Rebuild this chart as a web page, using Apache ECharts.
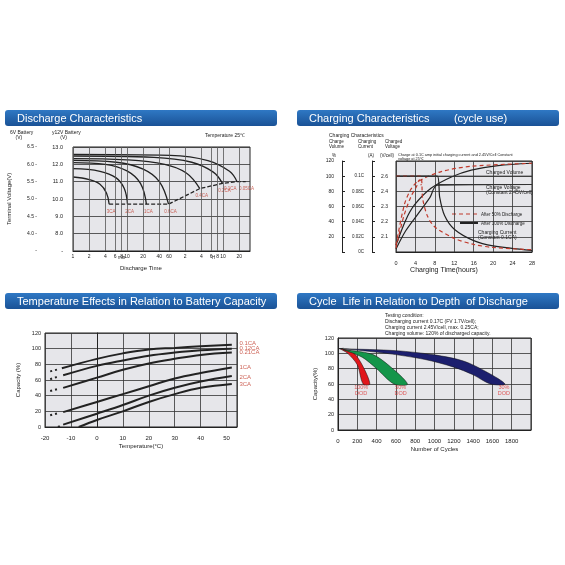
<!DOCTYPE html>
<html><head><meta charset="utf-8">
<script src="https://cdn.jsdelivr.net/npm/echarts@6/dist/echarts.min.js"></script>
<style>html,body{margin:0;background:#fff}#chart{width:565px;height:565px}</style>
</head><body><div id="chart"></div>
<script>
// ---- Discharge characteristics (x = log10(minutes), y = 12V volts)
var dischargeTicksMin = [1, 2, 4, 6, 8, 10, 20, 40, 60, 120, 240, 360, 480, 600, 1200];
var dischargeTickText = ['1', '2', '4', '6', '8', '10', '20', '40', '60', '2', '4', '6', '8', '10', '20'];
var dischargeRates = ['3CA', '2CA', '1CA', '0.6CA', '0.4CA', '0.2CA', '0.1CA  0.05CA'];
var dischargeCurves = [
    [[0, 11.27], [0.3, 11.12], [0.5, 10.85], [0.62, 10.35], [0.67, 9.7]],
    [[0, 11.75], [0.5, 11.6], [0.8, 11.22], [0.95, 10.6], [1.01, 9.7]],
    [[0, 12.1], [0.6, 12.0], [1.0, 11.62], [1.25, 10.9], [1.36, 9.7]],
    [[0, 12.23], [0.8, 12.12], [1.3, 11.72], [1.6, 11.0], [1.77, 9.7]],
    [[0, 12.33], [1.0, 12.26], [1.7, 12.0], [2.1, 11.5], [2.35, 10.6]],
    [[0, 12.48], [1.5, 12.4], [2.2, 12.12], [2.6, 11.55], [2.77, 10.9]],
    [[0, 12.58], [1.8, 12.52], [2.5, 12.22], [2.9, 11.6], [3.04, 11.0]]
];
var endVoltage = [[0.67, 9.7], [1.77, 9.7], [2.35, 10.6], [2.77, 10.9], [3.04, 11.0], [3.2, 11.0]];

// ---- Charging characteristics (x = hours, y = % scale 0..120)
var chargeVolumeLabels = ['0', '20', '40', '60', '80', '100', '120'];
var chargeCurrentLabels = ['0C', '0.02C', '0.04C', '0.06C', '0.08C', '0.1C', ''];
var chargeVoltageLabels = ['', '2.1', '2.2', '2.3', '2.4', '2.6', ''];
var volume100 = [[0, 9], [2, 42], [3.8, 62], [7.2, 84], [11.4, 99], [15.5, 108], [21, 114], [28, 117]];
var volume50 = [[0, 9], [1.7, 62], [3, 82], [4.5, 93], [9.3, 106], [15.5, 113], [28, 117]];
var voltage100 = [[0, 4], [2, 28], [4.5, 50], [7, 72], [8.5, 88], [28, 89]];
var voltage50 = [[0, 5], [1.5, 45], [3, 72], [4.2, 86], [4.8, 95], [5.2, 88]];
var current100 = [[0, 100], [8.5, 100], [9, 72], [10, 48], [12, 30], [16, 15], [20, 8], [28, 2]];
var current50 = [[0, 100], [5, 100], [5.5, 70], [6.5, 47], [8, 33], [12, 18], [16, 10], [20, 6], [28, 3]];

// ---- Temperature effects (x = deg C, y = capacity %)
var tempRates = ['0.1CA', '0.12CA', '0.21CA', '1CA', '2CA', '3CA'];
var tempCurves = [
    [[-13.5, 75], [0, 87], [10, 94], [20, 99], [30, 101], [40, 103], [52, 105]],
    [[-13, 66], [0, 78], [10, 85], [20, 91], [30, 95], [40, 98], [52, 100]],
    [[-13, 50], [0, 63], [10, 73], [20, 81], [30, 87], [40, 92], [52, 95]],
    [[-13, 19], [0, 32], [10, 42], [20, 52], [30, 62], [40, 69], [52, 76]],
    [[-13, 3], [0, 17], [10, 28], [20, 40], [30, 50], [40, 58], [52, 65]],
    [[-7, 0], [0, 9], [10, 20], [20, 32], [30, 42], [40, 50], [52, 55]]
];
var tempLabelY = [107, 101, 95, 76, 64, 54];
var tempDashes = [
    [[-18, 71], [-14.5, 74]], [[-18, 61], [-14.5, 65]], [[-18, 46], [-14.5, 49]],
    [[-18, 15], [-14.5, 18]], [[-15, 0], [-14, 1.5]], []
];

// ---- Cycle life (x = cycles, y = capacity %)
var dodLabels = ['100%\nDOD', '50%\nDOD', '30%\nDOD'];
var dodColors = ['#e0161b', '#14954a', '#1c1f6e'];
var dodLabelPos = [[240, 52], [650, 52], [1720, 52]];
var dodBands = [
    [[20, 106], [100, 100], [200, 85], [260, 60], [330, 60], [250, 85], [150, 102], [20, 106]],
    [[50, 105], [250, 95], [400, 80], [580, 60], [720, 60], [520, 85], [350, 99], [50, 105]],
    [[60, 106], [500, 100], [900, 92], [1200, 82], [1400, 72], [1580, 60], [1730, 60], [1550, 75], [1300, 90], [1000, 98], [600, 103.5], [60, 106]]
];
var cycleTopLine = [[0, 106], [60, 106.5]];

var font = 'Liberation Sans';
var ink = '#222';
var plotBg = '#e6e6ea';

function titleBar(x, y, w, text) {
    return [
        { type: 'rect', shape: { x: x, y: y, width: w, height: 16, r: 3 },
          style: { fill: new echarts.graphic.LinearGradient(0, 0, 0, 1, [{ offset: 0, color: '#2f78c4' }, { offset: 1, color: '#1a5296' }]) } },
        { type: 'text', x: x + 12, y: y + 3, style: { text: text, fill: '#fff', font: '11px ' + font } }
    ];
}
function txt(x, y, s, size, color, align) {
    return { type: 'text', x: x, y: y, style: { text: s, fill: color || ink, font: (size || 5) + 'px ' + font, align: align || 'left' } };
}

var series = [];
// discharge curves
dischargeCurves.forEach(function (c) {
    series.push({ type: 'line', xAxisIndex: 0, yAxisIndex: 0, data: c, smooth: 0.4, showSymbol: false,
        lineStyle: { color: ink, width: 1.3 } });
});
series.push({ type: 'line', xAxisIndex: 0, yAxisIndex: 0, showSymbol: false, data: endVoltage,
    lineStyle: { color: ink, width: 1.3, type: [4, 2] },
    markLine: { silent: true, symbol: 'none', lineStyle: { color: '#555', width: 0.8, type: 'solid' },
        label: { position: 'start', fontSize: 5, color: ink, fontFamily: font, distance: 3 },
        data: dischargeTicksMin.map(function (m, i) { return { xAxis: Math.log10(m), label: { formatter: dischargeTickText[i] } }; }) } });
var rateLabelPts = [[0.67, 9.7], [1.01, 9.7], [1.36, 9.7], [1.77, 9.7], [2.35, 10.6], [2.77, 10.9], [3.04, 11.0]];
series.push({ type: 'scatter', xAxisIndex: 0, yAxisIndex: 0, symbolSize: 0,
    data: rateLabelPts.map(function (p, i) { return { value: p, label: { formatter: dischargeRates[i] } }; }),
    label: { show: true, position: 'bottom', fontSize: 4.5, color: '#c0392b', fontFamily: font, offset: [2, 0] } });

// charging
function ch(data, color, dashed, w) {
    series.push({ type: 'line', xAxisIndex: 1, yAxisIndex: 4, data: data, smooth: 0.3, showSymbol: false,
        lineStyle: { color: color, width: w || 1.2, type: dashed ? [4, 3] : 'solid' } });
}
ch(volume100, ink); ch(volume50, '#c0392b', true);
ch(voltage100, ink); ch(voltage50, '#c0392b', true);
ch(current100, ink); ch(current50, '#c0392b', true);
series.push({ type: 'line', xAxisIndex: 1, yAxisIndex: 4, data: [[0, 100], [28, 100]], showSymbol: false, lineStyle: { color: '#333', width: 1 } });
series.push({ type: 'line', xAxisIndex: 1, yAxisIndex: 4, data: [[8.5, 89], [28, 89]], showSymbol: false, lineStyle: { color: '#333', width: 1 } });

// temperature
tempCurves.forEach(function (c, i) {
    series.push({ type: 'line', xAxisIndex: 2, yAxisIndex: 5, data: c, smooth: 0.4, showSymbol: false,
        lineStyle: { color: ink, width: 2 } });
    if (tempDashes[i].length) series.push({ type: 'line', xAxisIndex: 2, yAxisIndex: 5, data: tempDashes[i], showSymbol: false,
        lineStyle: { color: ink, width: 2, type: [2, 3] } });
});
series.push({ type: 'scatter', xAxisIndex: 2, yAxisIndex: 5, symbolSize: 0,
    data: tempRates.map(function (r, i) { return { value: [53, tempLabelY[i]], label: { formatter: r } }; }),
    label: { show: true, position: 'right', fontSize: 6, color: '#c0392b', fontFamily: font } });

// cycle life
series.push({ type: 'line', xAxisIndex: 3, yAxisIndex: 6, data: cycleTopLine, showSymbol: false, lineStyle: { color: ink, width: 1 } });
series.push({ type: 'custom', xAxisIndex: 3, yAxisIndex: 6, data: dodBands.map(function (b, i) { return [i]; }),
    renderItem: function (params, api) {
        var band = dodBands[params.dataIndex];
        return { type: 'polygon', shape: { points: band.map(function (p) { return api.coord(p); }), smooth: 0.3 },
            style: { fill: dodColors[params.dataIndex], stroke: '#111', lineWidth: 0.5 } };
    } });
series.push({ type: 'scatter', xAxisIndex: 3, yAxisIndex: 6, symbolSize: 0,
    data: dodLabelPos.map(function (p, i) { return { value: p, label: { formatter: dodLabels[i] } }; }),
    label: { show: true, fontSize: 5.5, color: '#d33', fontFamily: font, lineHeight: 6 } });

function yAx(grid, min, max, interval, extra) {
    return Object.assign({ type: 'value', gridIndex: grid, position: 'left', min: min, max: max, interval: interval,
        axisLine: { show: true, lineStyle: { color: ink } }, axisTick: { show: false },
        splitLine: { show: true, lineStyle: { color: '#333', width: 0.8 } },
        axisLabel: { fontSize: 5.5, color: ink, fontFamily: font, margin: 4 } }, extra || {});
}

var option = {
    animation: false,
    backgroundColor: '#fff',
    grid: [
        { left: 73, right: 315, top: 147, bottom: 314, show: true, backgroundColor: plotBg, borderColor: ink },
        { left: 396, right: 33, top: 161, bottom: 313, show: true, backgroundColor: plotBg, borderColor: ink },
        { left: 45, right: 328, top: 333, bottom: 138, show: true, backgroundColor: plotBg, borderColor: ink },
        { left: 338, right: 34, top: 338, bottom: 135, show: true, backgroundColor: plotBg, borderColor: ink }
    ],
    xAxis: [
        { type: 'value', gridIndex: 0, min: 0, max: 3.28, axisLabel: { show: false }, axisTick: { show: false }, splitLine: { show: false }, axisLine: { lineStyle: { color: ink } } },
        { type: 'value', gridIndex: 1, min: 0, max: 28, interval: 4, axisTick: { show: false },
          splitLine: { show: true, lineStyle: { color: '#333', width: 0.8 } }, axisLine: { lineStyle: { color: ink } },
          axisLabel: { fontSize: 5.5, color: ink, fontFamily: font },
          name: 'Charging Time(hours)', nameLocation: 'middle', nameGap: 14, nameTextStyle: { fontSize: 7, color: ink, fontFamily: font, padding: [0, 0, 0, -40] } },
        { type: 'value', gridIndex: 2, min: -20, max: 54, interval: 10, axisTick: { show: false },
          splitLine: { show: true, lineStyle: { color: '#333', width: 0.8 } }, axisLine: { lineStyle: { color: ink } },
          axisLabel: { fontSize: 6, color: ink, fontFamily: font, showMaxLabel: false },
          name: 'Temperature(\u00b0C)', nameLocation: 'middle', nameGap: 16, nameTextStyle: { fontSize: 6, color: ink, fontFamily: font } },
        { type: 'value', gridIndex: 3, min: 0, max: 2000, interval: 200, axisTick: { show: false },
          splitLine: { show: true, lineStyle: { color: '#333', width: 0.8 } }, axisLine: { lineStyle: { color: ink } },
          axisLabel: { fontSize: 6, color: ink, fontFamily: font, showMaxLabel: false, formatter: function (v) { return String(v); } },
          name: 'Number of Cycles', nameLocation: 'middle', nameGap: 16, nameTextStyle: { fontSize: 6, color: ink, fontFamily: font } }
    ],
    yAxis: [
        yAx(0, 7, 13, 1, { axisLabel: { fontSize: 5.5, color: ink, fontFamily: font, margin: 10, formatter: function (v) { return v === 7 ? '-' : v.toFixed(1); } }, axisLine: { show: false } }),
        yAx(0, 3.5, 6.5, 0.5, { offset: 28, splitLine: { show: false }, axisLine: { show: false },
            axisLabel: { fontSize: 5, color: ink, fontFamily: font, formatter: function (v) { return v === 3.5 ? '-' : v.toFixed(1) + ' -'; } } }),
        yAx(1, 0, 120, 20, { splitLine: { show: true, lineStyle: { color: '#333', width: 0.8 } }, axisLine: { show: false },
            axisLabel: { fontSize: 5, color: ink, fontFamily: font, formatter: function (v) { return chargeVoltageLabels[v / 20]; } } }),
        yAx(1, 0, 120, 20, { offset: 24, splitLine: { show: false }, axisTick: { show: true, inside: true, length: 3 },
            axisLabel: { fontSize: 4.5, color: ink, fontFamily: font, formatter: function (v) { return chargeCurrentLabels[v / 20]; } } }),
        yAx(1, 0, 120, 20, { offset: 54, splitLine: { show: false }, axisTick: { show: true, inside: true, length: 3 },
            axisLabel: { fontSize: 5, color: ink, fontFamily: font, formatter: function (v) { return v === 0 ? '' : chargeVolumeLabels[v / 20]; } } }),
        yAx(2, 0, 120, 20, { name: 'Capacity (%)', nameLocation: 'middle', nameGap: 24, nameTextStyle: { fontSize: 6, color: ink, fontFamily: font } }),
        yAx(3, 0, 120, 20, { name: 'Capacity(%)', nameLocation: 'middle', nameGap: 20, nameTextStyle: { fontSize: 6, color: ink, fontFamily: font } })
    ],
    series: series,
    graphic: [].concat(
        titleBar(5, 110, 272, 'Discharge Characteristics'),
        titleBar(297, 110, 262, 'Charging Characteristics        (cycle use)'),
        titleBar(5, 293, 272, 'Temperature Effects in Relation to Battery Capacity'),
        titleBar(297, 293, 262, 'Cycle  Life in Relation to Depth  of Discharge'),
        [
            txt(10, 130, '6V Battery\n    (V)', 5),
            txt(52, 130, 'y12V Battery\n      (V)', 5),
            txt(205, 133, 'Temperature 25\u2103', 5),
            txt(120, 265, 'Discharge Time', 6),
            txt(118, 255, 'min', 4.5), txt(212, 255, 'H', 4.5),
            { type: 'text', x: 6, y: 225, rotation: Math.PI / 2, style: { text: 'Terminal Voltage(V)', fill: ink, font: '6px ' + font } },
            txt(329, 133, 'Charging Characteristics', 5),
            txt(329, 139, 'Charge\nVolume', 4.5), txt(358, 139, 'Charging\nCurrent', 4.5), txt(385, 139, 'Charged\nVoltage', 4.5),
            txt(332, 153, '%', 4.5), txt(368, 153, '(A)', 4.5), txt(380, 153, '(V/cell)', 4.5),
            txt(398, 153, 'Charge at 0.1C amp initial charging current and 2.45V/Cell Constant\nvoltage at 25\u2103', 3.8),
            txt(486, 170, 'Charged Volume', 5),
            txt(486, 185, 'Charge Voltage\n(Constant 2.45V/cell)', 5),
            { type: 'line', shape: { x1: 452, y1: 214, x2: 478, y2: 214 }, style: { stroke: '#c0392b', lineWidth: 1, lineDash: [4, 3] } },
            txt(481, 212, 'After 50% Discharge', 4.5),
            { type: 'line', shape: { x1: 460, y1: 223, x2: 478, y2: 223 }, style: { stroke: ink, lineWidth: 2 } },
            txt(481, 221, 'After 100% Discharge', 4.5),
            txt(478, 230, 'Charging Current\n(Constant 0.1CA)', 5),
            txt(385, 313, 'Testing condition:', 5),
            txt(385, 319, 'Discharging current 0.17C (FV 1.7V/cell);', 5),
            txt(385, 325, 'Charging current 2.45V/cell, max. 0.25CA;', 5),
            txt(385, 331, 'Charging volume: 120% of discharged capacity.', 5)
        ]
    )
};
var myChart = echarts.init(document.getElementById('chart'));
myChart.setOption(option, true);
</script>
</body></html>
